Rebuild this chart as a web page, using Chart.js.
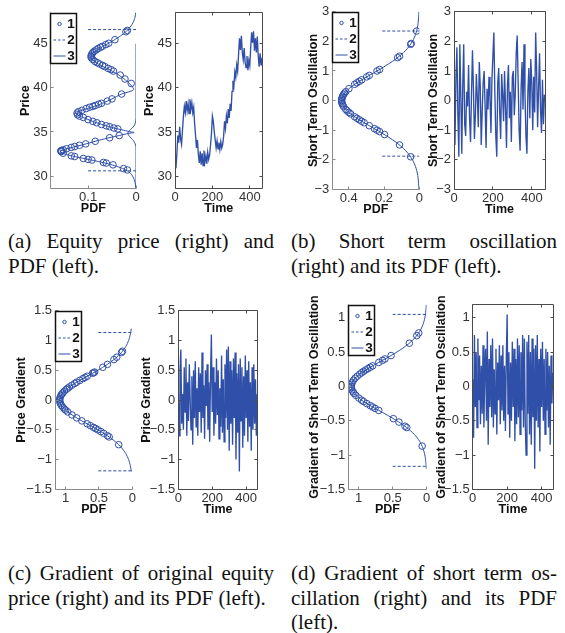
<!DOCTYPE html>
<html><head><meta charset="utf-8">
<script src="https://cdn.jsdelivr.net/npm/chart.js@4.4.0/dist/chart.umd.min.js"></script>
<style>
html,body{margin:0;padding:0;background:#fff;}
body{width:565px;height:633px;overflow:hidden;position:relative;}
canvas{position:absolute;}
.cap{position:absolute;font-family:"Liberation Serif","Times New Roman",serif;font-size:21px;line-height:24.5px;color:#111;}
.cap div{text-align:justify;text-align-last:justify;}
.cap div.last{text-align-last:left;}
</style>
</head><body>
<div class="cap" style="left:8px;top:229px;width:266px"><div>(a) Equity price (right) and</div><div class="last">PDF (left).</div></div>
<div class="cap" style="left:291px;top:229px;width:266px"><div>(b) Short term oscillation</div><div class="last">(right) and its PDF (left).</div></div>
<div class="cap" style="left:8px;top:561px;width:266px"><div>(c) Gradient of original equity</div><div class="last">price (right) and its PDF (left).</div></div>
<div class="cap" style="left:291px;top:561px;width:266px"><div>(d) Gradient of short term os-</div><div>cillation (right) and its PDF</div><div class="last">(left).</div></div>
<script>
// ---------- data ----------
const time = [0,5,10,15,20,25,30,35,40,45,50,55,60,65,70,75,80,85,90,95,100,105,110,115,120,125,130,135,140,145,150,155,160,165,170,175,180,185,190,195,200,205,210,215,220,225,230,235,240,245,250,255,260,265,270,275,280,285,290,295,300,305,310,315,320,325,330,335,340,345,350,355,360,365,370,375,380,385,390,395,400,405,410,415,420,425,430,435,440,445,450,455,460,465];
const priceSeries = [31.8,30.9,32.5,34.6,33.8,35.6,34.2,33.6,35.2,36.8,
 37.9,37.2,38.5,37.4,38.2,37.1,38.7,37.6,38.3,37.2,
 37.8,35.9,34.6,33.2,34.1,32.4,31.5,32.8,31.3,32.6,
 31.2,32.9,31.6,32.3,31.4,32.7,31.9,32.4,33.5,34.8,
 36.8,36.2,35.0,34.1,33.2,34.0,33.1,33.8,33.0,33.9,
 33.2,33.6,34.5,36.2,35.4,36.8,36.0,37.6,36.6,38.2,
 37.4,39.6,40.8,40.2,41.8,41.2,42.6,41.9,43.8,45.6,
 44.3,45.9,44.0,43.2,44.5,42.9,42.3,43.6,42.0,43.1,
 42.5,44.6,46.3,45.1,46.4,44.2,45.6,44.0,45.8,43.7,
 42.4,43.9,42.6,43.4];
const oscSeries = [-0.3,-1.5,0.8,1.8,-0.5,-1.9,1.9,0.2,-1.8,0.5,
 1.9,-0.8,-1.2,0.3,-0.2,1.2,-0.6,-1.4,0.2,1.7,
 0.4,-1.3,-0.5,0.9,0.1,-0.9,1.3,0.5,-1.5,-0.4,
 0.6,1.0,-0.2,-1.6,0.4,-0.3,0.8,0.1,-1.1,0.7,
 1.5,2.3,0.3,-1.2,-1.9,0.6,1.1,-0.4,-1.3,0.9,
 0.2,-0.7,1.0,-0.2,-1.6,0.5,1.2,-0.6,0.3,-1.4,
 0.8,1.0,-0.5,0.2,1.6,2.2,0.6,-1.0,-1.7,0.4,
 1.3,-0.3,1.9,0.2,-1.2,-1.8,0.3,1.1,-0.6,1.4,
 0.6,-1.0,0.8,-0.4,2.3,1.0,-0.9,0.4,1.6,-0.3,
 -1.1,0.7,-0.8,0.2];
const gradPriceSeries = [0.2,-0.6,0.5,0.85,-0.4,0.1,-0.5,0.55,-0.2,0.7,
 -0.6,0.3,-0.35,0.6,0.0,-0.5,0.4,-0.75,0.5,-0.3,
 0.65,-0.45,0.2,-0.6,0.55,-0.2,0.45,-0.55,0.8,-0.3,
 0.25,-0.65,0.5,-0.1,0.6,-0.5,0.3,-0.7,0.4,1.1,
 -0.2,0.55,-0.6,0.3,-0.4,0.7,-0.25,0.5,-0.65,0.2,
 -0.45,0.75,-0.55,0.35,-0.7,0.6,-0.3,0.85,-0.5,0.9,
 -0.85,0.65,-0.4,0.5,-0.75,0.7,-0.3,0.8,-1.0,0.45,
 -0.55,0.6,-1.2,0.7,-0.35,0.55,-0.8,0.4,-0.6,0.75,
 -0.3,0.5,-0.7,0.65,-0.45,0.3,-0.85,0.55,-0.5,0.6,
 -0.4,0.35,-0.6,0.1];
const gradOscSeries = [0.1,-0.75,0.75,-0.3,0.5,-0.6,0.7,-0.2,0.45,-0.55,
 0.3,-0.4,0.6,-0.6,0.2,0.55,-0.5,0.8,-0.85,0.4,
 -0.3,0.6,-0.45,0.7,-0.6,0.25,-0.4,0.55,-0.7,0.35,
 -0.2,0.6,-0.55,0.45,-0.35,0.6,-0.5,0.3,-0.65,0.4,
 1.05,-0.4,0.5,-0.75,0.35,-0.5,0.65,-0.3,0.55,-0.8,
 0.4,-0.55,0.7,-0.45,0.6,-0.7,0.5,-0.35,0.75,-0.6,
 0.7,-0.5,-1.0,0.65,-0.4,0.75,-0.7,0.5,-0.85,0.7,
 -0.45,0.55,-1.2,0.6,-0.5,0.75,-0.6,0.4,-0.95,0.55,
 -0.3,0.65,-0.5,0.4,-0.7,0.55,-0.35,0.5,-0.6,0.3,
 -0.85,0.45,-0.25,0.2];

// PDF panel (a)
const curveA_pdf = [0.0005,0.002,0.006,0.012,0.02,0.032,0.046,0.062,0.078,0.089,0.094,0.092,0.085,0.072,0.057,0.042,0.028,0.016,0.008,0.005,
 0.012,0.03,0.05,0.07,0.09,0.108,0.12,0.124,0.12,0.106,0.088,0.068,0.046,0.026,0.01,0.004,
 0.015,0.035,0.06,0.085,0.108,0.13,0.148,0.157,0.155,0.142,0.122,0.1,0.078,0.058,0.04,0.025,0.013,0.006,0.002,0.0005];
const curveA_val = [48.6,48.0,47.4,46.9,46.4,45.9,45.4,44.9,44.4,44.0,43.6,43.25,42.9,42.5,42.1,41.65,41.15,40.6,40.15,39.8,
 39.6,39.3,38.75,38.25,37.85,37.55,37.3,37.1,36.85,36.55,36.15,35.8,35.45,35.2,35.0,34.95,
 34.85,34.6,34.3,33.95,33.6,33.3,33.05,32.85,32.65,32.4,32.15,31.9,31.65,31.4,31.1,30.8,30.4,29.9,29.3,28.7];
const narrowA_pdf = [0,0,0.001,0.004,0.009,0.014,0.017,0.015,0.01,0.005,0.002,0,0];
const narrowA_val = [45,36.6,36.1,35.7,35.4,35.15,34.9,34.6,34.3,34.0,33.7,33.3,28.6];
const circA_pdf = [0.018,0.021,0.044,0.057,0.063,0.07,0.074,0.079,0.083,0.087,0.09,0.092,0.093,0.094,0.093,0.09,0.086,0.081,0.076,0.07,0.065,0.058,0.052,0.047,0.033,0.023,0.01,
 0.03,0.05,0.06,0.072,0.078,0.085,0.09,0.097,0.104,0.113,0.12,0.123,0.122,0.118,0.11,0.1,0.09,0.082,0.072,0.062,0.055,0.046,0.038,
 0.035,0.055,0.085,0.105,0.118,0.128,0.135,0.145,0.152,0.156,0.157,0.156,0.152,0.135,0.128,0.11,0.1,0.092,0.068,0.062,0.048,0.026,0.018];
const circA_val = [46.5,46.35,45.45,45.05,44.9,44.7,44.6,44.45,44.3,44.15,44.0,43.85,43.7,43.55,43.4,43.2,43.0,42.85,42.7,42.55,42.4,42.2,42.05,41.9,41.45,41.0,40.5,
 39.3,38.75,38.5,38.25,38.15,38.0,37.9,37.8,37.65,37.45,37.3,37.15,36.95,36.8,36.65,36.4,36.2,36.05,35.85,35.7,35.6,35.45,35.35,
 34.6,34.35,33.95,33.65,33.5,33.35,33.25,33.1,32.98,32.9,32.85,32.78,32.6,32.3,32.22,32.0,31.9,31.82,31.55,31.48,31.28,30.85,30.7];
const dashA_val = [46.6,30.6];
const dashA_pdf = [0.1,0.1];

// PDF panel (b)
const curveB_val = [3.0,2.6,2.3,2.0,1.7,1.4,1.1,0.8,0.5,0.25,0,-0.25,-0.5,-0.8,-1.1,-1.4,-1.7,-2.0,-2.3,-2.6,-3.0];
const curveB_pdf = [0.0019,0.0072,0.0176,0.0387,0.076,0.134,0.211,0.298,0.378,0.424,0.44,0.424,0.378,0.298,0.211,0.134,0.076,0.0387,0.0176,0.0072,0.0019];
const circB_val = [2.35,1.93,1.9,1.5,1.45,1.05,1.0,0.85,0.8,0.7,0.65,0.6,0.55,0.4,0.3,0.25,0.2,0.15,0.1,0.05,0,-0.05,-0.1,-0.15,-0.2,-0.3,-0.35,-0.4,-0.45,-0.55,-0.6,-0.65,-0.7,-0.75,-0.85,-0.95,-1.0,-1.05,-1.15,-1.5,-1.9];
const circB_pdf = [0.0153,0.0458,0.049,0.112,0.1226,0.225,0.2396,0.2836,0.298,0.3267,0.34,0.3535,0.366,0.399,0.4166,0.424,0.4294,0.434,0.4373,0.4399,0.44,0.4399,0.4373,0.434,0.4294,0.4166,0.4084,0.399,0.389,0.366,0.3535,0.34,0.3267,0.3125,0.2836,0.2542,0.2396,0.225,0.197,0.112,0.049];
const dashB_val = [2.35,-1.88];
const dashB_pdf = [0.21,0.21];

// PDF panel (c)
const curveC_val = [1.2,1.1,1.0,0.9,0.8,0.7,0.6,0.5,0.4,0.3,0.2,0.1,0,-0.1,-0.2,-0.3,-0.4,-0.5,-0.6,-0.7,-0.8,-0.9,-1.0,-1.1,-1.2];
const curveC_pdf = [0.015,0.0298,0.0556,0.0978,0.162,0.2536,0.3734,0.518,0.677,0.834,0.968,1.058,1.09,1.058,0.968,0.834,0.677,0.518,0.3734,0.2536,0.162,0.0978,0.0556,0.0298,0.015];
const circC_val = [0.82,0.8,0.72,0.68,0.6,0.55,0.47,0.46,0.45,0.4,0.38,0.36,0.33,0.3,0.28,0.25,0.22,0.2,0.18,0.15,0.12,0.1,0.08,0.05,0.02,0,-0.03,-0.06,-0.09,-0.12,-0.15,-0.17,-0.2,-0.25,-0.3,-0.35,-0.4,-0.43,-0.46,-0.48,-0.5,-0.53,-0.56,-0.6,-0.62,-0.75];
const circC_pdf = [0.147,0.162,0.233,0.275,0.373,0.443,0.565,0.581,0.597,0.677,0.709,0.741,0.788,0.834,0.863,0.905,0.944,0.968,0.99,1.019,1.044,1.058,1.069,1.082,1.089,1.09,1.087,1.078,1.064,1.044,1.019,1.0,0.968,0.905,0.834,0.757,0.677,0.629,0.581,0.549,0.518,0.472,0.429,0.373,0.347,0.204];
const dashC_val = [1.135,-1.19];
const dashC_pdf = [0.51,0.51];

// PDF panel (d)
const curveD_val = [1.2,1.1,1.0,0.9,0.8,0.7,0.6,0.5,0.4,0.3,0.2,0.1,0,-0.1,-0.2,-0.3,-0.4,-0.5,-0.6,-0.7,-0.8,-0.9,-1.0,-1.1,-1.2];
const curveD_pdf = [0.0054,0.0126,0.0273,0.0553,0.1038,0.181,0.293,0.44,0.614,0.795,0.957,1.07,1.11,1.07,0.957,0.795,0.614,0.44,0.293,0.181,0.1038,0.0553,0.0273,0.0126,0.0054];
const circD_val = [0.78,0.74,0.63,0.45,0.4,0.38,0.35,0.3,0.28,0.26,0.24,0.22,0.2,0.18,0.15,0.12,0.09,0.06,0.03,0,-0.02,-0.05,-0.08,-0.1,-0.13,-0.17,-0.2,-0.22,-0.25,-0.28,-0.3,-0.32,-0.35,-0.47,-0.52,-0.58,-0.6,-0.87];
const circD_pdf = [0.117,0.146,0.255,0.524,0.614,0.65,0.705,0.795,0.83,0.864,0.897,0.928,0.957,0.984,1.021,1.052,1.077,1.095,1.106,1.11,1.108,1.1,1.084,1.07,1.043,0.997,0.957,0.928,0.881,0.83,0.795,0.76,0.705,0.49,0.408,0.319,0.293,0.067];
const dashD_val = [1.05,-1.165];
const dashD_pdf = [0.5,0.5];

// tick labels
const ticksTime = [0,200,400];
const ticksA_y = [30,35,40,45];
const ticksA_pdf = [0.1,0];
const ticksB_y = [-3,-2,-1,0,1,2,3];
const ticksB_pdf = [0.4,0.2,0];
const ticksC_y = [-1.5,-1,-0.5,0,0.5,1,1.5];
const ticksC_pdf = [1,0.5,0];
const ticksD_y = [-1.5,-1,-0.5,0,0.5,1];
const ticksD_pdf = [1,0.5,0];

// ---------- drawing ----------
const BLUE = '#2f4fa8';
const FF = '"Liberation Sans", Arial, Helvetica, sans-serif';
const zip = (xs, ys) => xs.map((x, i) => ({x: x, y: ys[i]}));
const fmt = v => (v < 0 ? '\u2212' : '') + String(Math.abs(v));

const framePlugin = {
  id: 'frame',
  afterDraw(chart) {
    const o = chart.options.plugins.frame || {};
    const ctx = chart.ctx, a = chart.chartArea;
    const xs = chart.scales.x, ys = chart.scales.y;
    const L = Math.round(a.left - 0.5) + 0.5, R = Math.round(a.right - 0.5) + 0.5;
    const T = Math.round(a.top - 0.5) + 0.5, B = Math.round(a.bottom - 0.5) + 0.5;
    ctx.save();
    ctx.strokeStyle = o.axisColor; ctx.lineWidth = 1; ctx.setLineDash([]);
    ctx.beginPath();
    ctx.moveTo(L, T); ctx.lineTo(L, B); ctx.lineTo(R, B);
    if (o.boxed) { ctx.lineTo(R, T); ctx.lineTo(L, T); }
    ctx.stroke();
    ctx.beginPath();
    xs.ticks.forEach(t => {
      const p = Math.round(xs.getPixelForValue(t.value) - 0.5) + 0.5;
      ctx.moveTo(p, B); ctx.lineTo(p, B - 3);
      if (o.boxed) { ctx.moveTo(p, T); ctx.lineTo(p, T + 3); }
    });
    ys.ticks.forEach(t => {
      const p = Math.round(ys.getPixelForValue(t.value) - 0.5) + 0.5;
      ctx.moveTo(L, p); ctx.lineTo(L + 3, p);
      if (o.boxed) { ctx.moveTo(R, p); ctx.lineTo(R - 3, p); }
    });
    ctx.stroke();
    if (o.legend) {
      const lx = L, ly = T + 1, w = 26, h = 50;
      ctx.fillStyle = '#fff';
      ctx.fillRect(lx, ly, w, h);
      ctx.strokeStyle = '#111'; ctx.lineWidth = 1.5;
      ctx.strokeRect(lx, ly, w, h);
      ctx.strokeStyle = BLUE; ctx.lineWidth = 1;
      ctx.beginPath(); ctx.arc(lx + 9, ly + 10.5, 1.7, 0, Math.PI * 2); ctx.stroke();
      ctx.setLineDash([2.5, 2]);
      ctx.beginPath(); ctx.moveTo(lx + 3, ly + 26.5); ctx.lineTo(lx + 15, ly + 26.5); ctx.stroke();
      ctx.setLineDash([]);
      ctx.beginPath(); ctx.moveTo(lx + 3, ly + 42.5); ctx.lineTo(lx + 15, ly + 42.5); ctx.stroke();
      ctx.fillStyle = '#111';
      ctx.font = 'bold 13.5px ' + FF;
      ctx.textAlign = 'center'; ctx.textBaseline = 'middle';
      ['1', '2', '3'].forEach((s, i) => ctx.fillText(s, lx + 20.5, ly + 11 + i * 16));
    }
    ctx.restore();
  }
};

function makePanel(o) {
  const cl = Math.floor(o.titleX - 10);
  const ct = Math.floor(o.T - 10);
  const padLeft = o.titleX - 7.5 - cl;
  const yw = o.L - o.titleX + 7.5;
  const W = Math.ceil(o.R - cl + 14);
  const padRight = W - (o.R - cl);
  const H = Math.ceil(o.B - ct + 29);
  const padBottom = H - (o.B - ct) - 27.5;
  const padTop = o.T - ct;
  const cv = document.createElement('canvas');
  cv.width = W; cv.height = H;
  cv.style.left = cl + 'px'; cv.style.top = ct + 'px';
  cv.style.width = W + 'px'; cv.style.height = H + 'px';
  document.body.appendChild(cv);
  const tickFont = {family: FF, size: 13};
  const titleFont = {family: FF, size: 12.5, weight: 'bold'};
  new Chart(cv, {
    type: 'scatter',
    data: {datasets: o.datasets},
    options: {
      responsive: false, animation: false, devicePixelRatio: 1,
      layout: {autoPadding: false, padding: {left: padLeft, top: padTop, right: padRight, bottom: padBottom}},
      plugins: {legend: {display: false}, tooltip: {enabled: false},
        frame: {boxed: o.boxed, axisColor: o.boxed ? '#4a4a4a' : '#8a8a8a', legend: o.legend}},
      scales: {
        x: {type: 'linear', position: 'bottom', min: o.xmin, max: o.xmax, reverse: !!o.xrev,
          afterFit: s => { s.height = 27.5; },
          afterBuildTicks: s => { s.ticks = o.xticks.map(v => ({value: v})); },
          grid: {display: false, drawTicks: false}, border: {display: false},
          ticks: {padding: 1, font: tickFont, color: '#333', maxRotation: 0, autoSkip: false, callback: fmt},
          title: {display: true, text: o.xtitle, padding: 0, font: titleFont, color: '#111'}},
        y: {type: 'linear', position: 'left', min: o.ymin, max: o.ymax,
          afterFit: s => { s.width = yw; },
          afterBuildTicks: s => { s.ticks = o.yticks.map(v => ({value: v})); },
          grid: {display: false, drawTicks: false}, border: {display: false},
          ticks: {padding: 3, font: tickFont, color: '#333', autoSkip: false, callback: fmt},
          title: {display: true, text: o.ytitle, padding: 0, font: titleFont, color: '#111'}}
      }
    },
    plugins: [framePlugin]
  });
}

function seriesDs(ys) {
  return [{data: zip(time, ys), showLine: true, borderColor: BLUE, borderWidth: 1.35, pointRadius: 0, tension: 0}];
}
function pdfDs(circP, circV, curves, dashP, dashV) {
  const ds = [];
  curves.forEach(c => ds.push({data: zip(c[0], c[1]), showLine: true, borderColor: BLUE, borderWidth: 1, pointRadius: 0, tension: 0.25}));
  dashV.forEach((v, i) => ds.push({data: [{x: dashP[i], y: v}, {x: 0, y: v}], showLine: true, borderColor: BLUE, borderWidth: 1, borderDash: [3, 2], pointRadius: 0}));
  ds.push({data: zip(circP, circV), showLine: false, pointRadius: 3.3, pointBorderWidth: 1, pointBorderColor: BLUE, pointBackgroundColor: 'rgba(0,0,0,0)', borderColor: BLUE});
  return ds;
}

// (a)
makePanel({L: 50.7, T: 12, R: 136, B: 188.5, titleX: 25.3, xmin: 0, xmax: 0.178, xrev: true, ymin: 28.6, ymax: 48.5,
  xticks: ticksA_pdf, yticks: ticksA_y, xtitle: 'PDF', ytitle: 'Price', legend: true, boxed: false,
  datasets: pdfDs(circA_pdf, circA_val, [[curveA_pdf, curveA_val], [narrowA_pdf, narrowA_val]], dashA_pdf, dashA_val)});
makePanel({L: 175, T: 12, R: 262.5, B: 188.5, titleX: 150, xmin: 0, xmax: 468, ymin: 28.6, ymax: 48.5,
  xticks: ticksTime, yticks: ticksA_y, xtitle: 'Time', ytitle: 'Price', boxed: true,
  datasets: seriesDs(priceSeries)});
// (b)
makePanel({L: 332.3, T: 11.7, R: 419.3, B: 189.3, titleX: 313.3, xmin: 0, xmax: 0.493, xrev: true, ymin: -3, ymax: 3,
  xticks: ticksB_pdf, yticks: ticksB_y, xtitle: 'PDF', ytitle: 'Short Term Oscillation', legend: true, boxed: false,
  datasets: pdfDs(circB_pdf, circB_val, [[curveB_pdf, curveB_val]], dashB_pdf, dashB_val)});
makePanel({L: 454, T: 11.7, R: 545, B: 189.3, titleX: 433.3, xmin: 0, xmax: 468, ymin: -3, ymax: 3,
  xticks: ticksTime, yticks: ticksB_y, xtitle: 'Time', ytitle: 'Short Term Oscillation', boxed: true,
  datasets: seriesDs(oscSeries)});
// (c)
makePanel({L: 55, T: 310, R: 132.3, B: 489.3, titleX: 21.7, xmin: 0, xmax: 1.16, xrev: true, ymin: -1.5, ymax: 1.5,
  xticks: ticksC_pdf, yticks: ticksC_y, xtitle: 'PDF', ytitle: 'Price Gradient', legend: true, boxed: false,
  datasets: pdfDs(circC_pdf, circC_val, [[curveC_pdf, curveC_val]], dashC_pdf, dashC_val)});
makePanel({L: 178.3, T: 310, R: 257.7, B: 489.3, titleX: 146.7, xmin: 0, xmax: 468, ymin: -1.5, ymax: 1.5,
  xticks: ticksTime, yticks: ticksC_y, xtitle: 'Time', ytitle: 'Price Gradient', boxed: true,
  datasets: seriesDs(gradPriceSeries)});
// (d)
makePanel({L: 348.3, T: 304, R: 426.7, B: 489.3, titleX: 315, xmin: 0, xmax: 1.153, xrev: true, ymin: -1.5, ymax: 1.19,
  xticks: ticksD_pdf, yticks: ticksD_y, xtitle: 'PDF', ytitle: 'Gradient of Short Term Oscillation', legend: true, boxed: false,
  datasets: pdfDs(circD_pdf, circD_val, [[curveD_pdf, curveD_val]], dashD_pdf, dashD_val)});
makePanel({L: 472.7, T: 304, R: 553.3, B: 489.3, titleX: 441.7, xmin: 0, xmax: 468, ymin: -1.5, ymax: 1.19,
  xticks: ticksTime, yticks: ticksD_y, xtitle: 'Time', ytitle: 'Gradient of Short Term Oscillation', boxed: true,
  datasets: seriesDs(gradOscSeries)});
</script>
</body></html>
